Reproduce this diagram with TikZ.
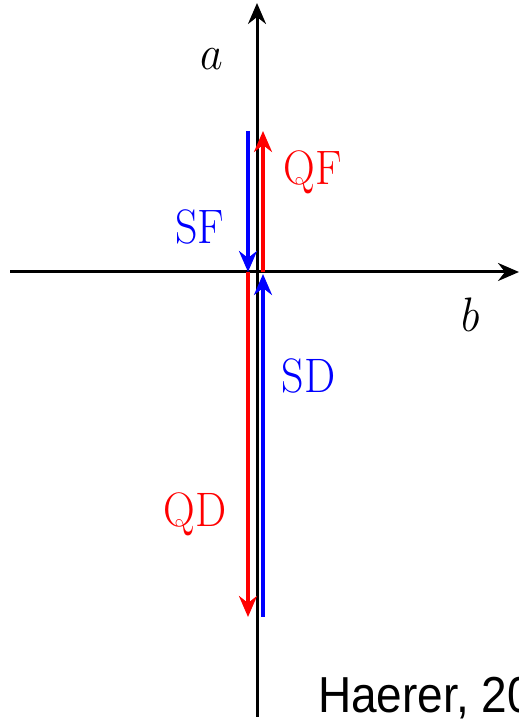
\RequirePackage{fix-cm}
\documentclass[tikz,border=0pt]{standalone}
\usepackage{fontspec}
\newfontfamily\haererfont{Liberation Sans}
\usetikzlibrary{arrows.meta}
\tikzset{
  axisline/.style={line width=3pt, black, -{Stealth[length=21pt,width=18pt,inset=7pt]}},
  colline/.style={line width=3.6pt, -{Stealth[length=21pt,width=18pt,inset=7pt]}},
  lbl/.style={anchor=base, inner sep=0pt, font=\fontsize{44}{52}\selectfont},
}
\newcommand{\vstr}[1]{\scalebox{1}[1.1]{#1}}
\begin{document}
\begin{tikzpicture}[x=1pt,y=1pt]
\useasboundingbox (0,0) rectangle (519,721);
\clip (0,0) rectangle (519,721);
% axes
\coordinate (vb) at (257,4);
\coordinate (vt) at (257,718);
\coordinate (hl) at (10,449);
\coordinate (hr) at (519,449);
\draw[axisline] (vb) -- (vt);
\draw[axisline] (hl) -- (hr);
% coloured vectors
\coordinate (sftop) at (248,590);
\coordinate (sfend) at (248,449);
\coordinate (qfstart) at (263,449);
\coordinate (qfend) at (263,590);
\coordinate (qdstart) at (248,449);
\coordinate (qdend) at (248,104);
\coordinate (sdstart) at (263,104);
\coordinate (sdend) at (263,447);
\draw[colline, blue] (sftop) -- (sfend);
\draw[colline, red] (qfstart) -- (qfend);
\draw[colline, red] (qdstart) -- (qdend);
\draw[colline, blue] (sdstart) -- (sdend);
% labels
\node[lbl] (la) at (212,651) {\vstr{$a$}};
\node[lbl] (lb) at (471,389) {\vstr{$b$}};
\node[lbl, red] (lqf) at (313,536) {\vstr{QF}};
\node[lbl, blue] (lsf) at (199.5,477) {\vstr{SF}};
\node[lbl, blue] (lsd) at (308.5,328) {\vstr{SD}};
\node[lbl, red] (lqd) at (195,194) {\vstr{QD}};
\node[anchor=base west, inner sep=0pt, font=\haererfont\fontsize{46}{55}\selectfont] (cite) at (318,8) {\vstr{Haerer, 20}};
\end{tikzpicture}
\end{document}
